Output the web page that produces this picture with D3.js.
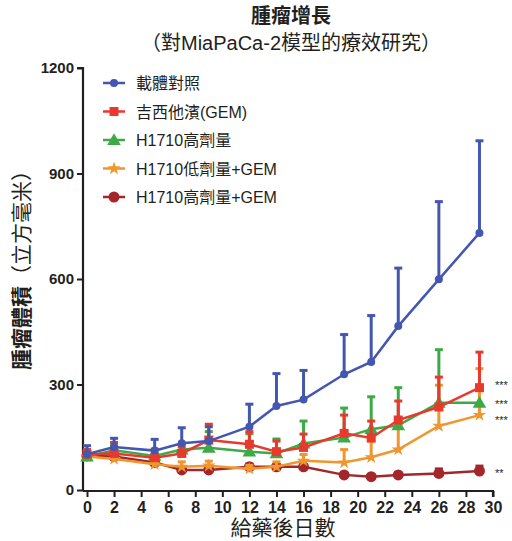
<!DOCTYPE html>
<html>
<head>
<meta charset="utf-8">
<script src="https://cdn.jsdelivr.net/npm/d3@7"></script>
<style>
  body { margin: 0; background: #fff; }
  svg text { font-family: "Liberation Sans", Arial, "Noto Sans CJK TC", sans-serif; fill: #231f20; }
</style>
</head>
<body>
<div id="chart"></div>
<script>
// days measured
const days = [0, 2, 5, 7, 9, 12, 14, 16, 19, 21, 23, 26, 29];

// mean tumour volume per group
const vehicleMean = [102, 122, 112, 133, 139, 180, 239, 257, 329, 364, 466, 599, 731];
const gemMean = [102, 104, 92, 104, 142, 130, 109, 121, 161, 148, 199, 236, 291];
const highMean = [95, 113, 97, 115, 120, 109, 104, 132, 149, 173, 184, 248, 248];
const lowGemMean = [95, 88, 73, 66, 69, 60, 66, 83, 78, 93, 115, 182, 213];
const highGemMean = [97, 95, 78, 57, 57, 66, 66, 66, 43, 38, 43, 47, 54];

// upper end of error bar (mean + SEM)
const vehicleUpper = [126, 147, 144, 177, 180, 244, 331, 340, 442, 496, 631, 820, 993];
const gemUpper = [115, 135, 116, 123, 187, 166, 139, 159, 213, 196, 253, 321, 392];
const highUpper = [105, 126, 105, 130, 166, 160, 145, 196, 233, 265, 291, 399, 248];
const lowGemUpper = [104, 98, 82, 80, 82, 70, 80, 101, 115, 139, 186, 298, 345];
const highGemUpper = [104, 104, 86, 64, 64, 74, 72, 72, 50, 44, 50, 60, 68];

const groupNames = ["載體對照", "吉西他濱(GEM)", "H1710高劑量", "H1710低劑量+GEM", "H1710高劑量+GEM"];
const groupColors = ["#4356b0", "#e8392f", "#3daa47", "#f0962e", "#a3272a"];
const groupSymbols = ["circle", "square", "triangle", "star", "bigcircle"];
const sigLabels = ["***", "***", "***", "**"];
const sigValues = [300, 245, 200, 48];

const xTicks = d3.range(0, 31, 2);
const yTicks = [0, 300, 600, 900, 1200];

const width = 512, height = 541;

const svg = d3.select("#chart").append("svg")
    .attr("width", width)
    .attr("height", height);

const x = d3.scaleLinear().domain([0, 30]).range([87, 493]);
const y = d3.scaleLinear().domain([0, 1200]).range([490, 68]);

// Titles
svg.append("text")
    .attr("x", 291).attr("y", 23)
    .attr("text-anchor", "middle")
    .attr("font-size", 20).attr("font-weight", "bold")
    .text("腫瘤增長");
svg.append("text")
    .attr("x", 291).attr("y", 50)
    .attr("text-anchor", "middle")
    .attr("font-size", 20)
    .text("（對MiaPaCa-2模型的療效研究）");

// Axes
const yAxis = svg.append("g")
    .attr("transform", `translate(83,0)`)
    .call(d3.axisLeft(y).tickValues(yTicks).tickFormat(d3.format("d")).tickSize(6).tickPadding(3));
yAxis.select(".domain").attr("stroke", "#231f20").attr("stroke-width", 2.2)
    .attr("d", `M-6,${y(1200)}H0V${y(0) + 1}`);
yAxis.selectAll(".tick line").attr("stroke", "#231f20").attr("stroke-width", 2);
yAxis.selectAll(".tick text").attr("font-size", 15).attr("font-weight", "bold")
    .attr("fill", "#231f20").style("font-family", "Liberation Sans, Arial, sans-serif");

const xAxis = svg.append("g")
    .attr("transform", `translate(0,491)`)
    .call(d3.axisBottom(x).tickValues(xTicks).tickSize(6).tickPadding(5));
xAxis.select(".domain").attr("stroke", "#231f20").attr("stroke-width", 2.2)
    .attr("d", `M83,0H${x(30)}V6`);
xAxis.selectAll(".tick line").attr("stroke", "#231f20").attr("stroke-width", 2);
xAxis.selectAll(".tick text").attr("font-size", 16).attr("font-weight", "bold")
    .attr("fill", "#231f20").style("font-family", "Liberation Sans, Arial, sans-serif");

// Axis titles
svg.append("text")
    .attr("x", 283).attr("y", 535)
    .attr("text-anchor", "middle")
    .attr("font-size", 21)
    .text("給藥後日數");

const yLab = svg.append("text")
    .attr("transform", "translate(29,265) rotate(-90)")
    .attr("text-anchor", "middle")
    .attr("font-size", 21);
yLab.append("tspan").attr("font-weight", "bold").text("腫瘤體積");
yLab.append("tspan").text("（立方毫米）");

// Marker drawing
function drawMarker(g, type, color, cx, cy) {
    if (type === "circle") {
        g.append("circle").attr("cx", cx).attr("cy", cy).attr("r", 4).attr("fill", color);
    } else if (type === "bigcircle") {
        g.append("circle").attr("cx", cx).attr("cy", cy).attr("r", 5.5).attr("fill", color);
    } else if (type === "square") {
        g.append("rect").attr("x", cx - 4.5).attr("y", cy - 4.5).attr("width", 9).attr("height", 9).attr("fill", color);
    } else if (type === "triangle") {
        g.append("path").attr("d", d3.symbol(d3.symbolTriangle, 80)()).attr("transform", `translate(${cx},${cy + 1})`).attr("fill", color);
    } else if (type === "star") {
        g.append("path").attr("d", d3.symbol(d3.symbolStar, 55)()).attr("transform", `translate(${cx},${cy})`).attr("fill", color);
    }
}

const means = [vehicleMean, gemMean, highMean, lowGemMean, highGemMean];
const uppers = [vehicleUpper, gemUpper, highUpper, lowGemUpper, highGemUpper];

const line = d3.line().x(d => x(d.day)).y(d => y(d.v));

// draw in reverse order so control sits on top like original
[4, 3, 2, 1, 0].forEach(i => {
    const g = svg.append("g");
    const pts = days.map((d, j) => ({ day: d, v: means[i][j], up: uppers[i][j] }));
    // error bars
    pts.forEach(p => {
        if (p.up > p.v) {
            g.append("line")
                .attr("x1", x(p.day)).attr("x2", x(p.day))
                .attr("y1", y(p.v)).attr("y2", y(p.up))
                .attr("stroke", groupColors[i]).attr("stroke-width", 3);
            g.append("line")
                .attr("x1", x(p.day) - 4).attr("x2", x(p.day) + 4)
                .attr("y1", y(p.up)).attr("y2", y(p.up))
                .attr("stroke", groupColors[i]).attr("stroke-width", 3);
        }
    });
    g.append("path")
        .datum(pts)
        .attr("d", line)
        .attr("fill", "none")
        .attr("stroke", groupColors[i])
        .attr("stroke-width", 2.5);
    pts.forEach(p => drawMarker(g, groupSymbols[i], groupColors[i], x(p.day), y(p.v)));
});

// significance marks
sigLabels.forEach((s, i) => {
    svg.append("text")
        .attr("x", 495).attr("y", y(sigValues[i]) + 4)
        .attr("font-size", 11)
        .attr("fill", "#555")
        .text(s);
});

// Legend
const legend = svg.append("g");
groupNames.forEach((name, i) => {
    const ly = 83 + i * 28.5;
    legend.append("line")
        .attr("x1", 103).attr("x2", 125)
        .attr("y1", ly).attr("y2", ly)
        .attr("stroke", groupColors[i]).attr("stroke-width", 2.5);
    drawMarker(legend, groupSymbols[i], groupColors[i], 114, ly);
    legend.append("text")
        .attr("x", 136).attr("y", ly + 6)
        .attr("font-size", 16)
        .text(name);
});
</script>
</body>
</html>
